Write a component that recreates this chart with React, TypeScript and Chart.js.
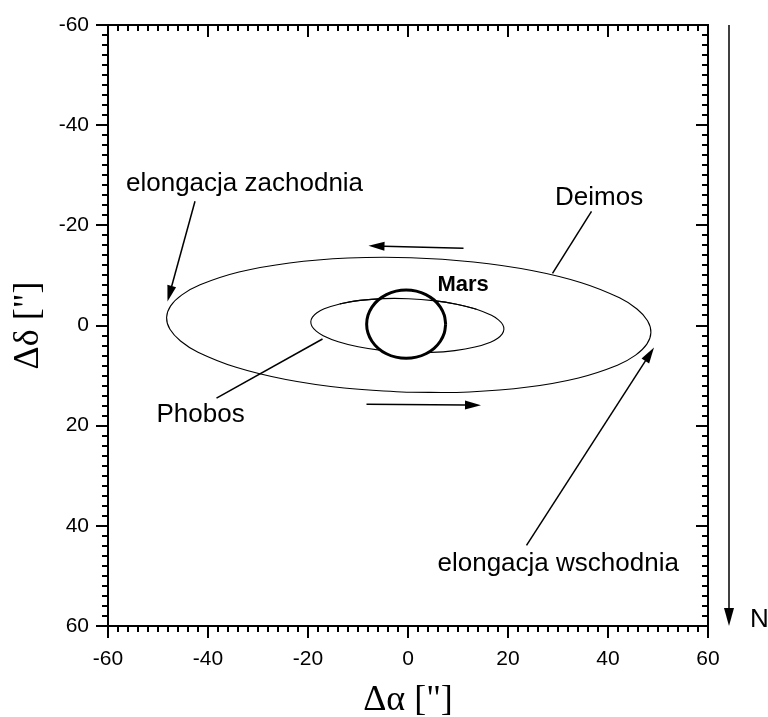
import React, { useEffect, useRef } from 'react';
import { Chart, registerables } from 'chart.js';

Chart.register(...registerables);

// ---- axes ----
const AXIS_MIN = -60;
const AXIS_MAX = 60;
const MINOR_STEP = 2;
const MAJOR_STEP = 20;
const tickValues = [-60, -40, -20, 0, 20, 40, 60];
const xTitle = 'Δα ["]';
const yTitle = 'Δδ ["]';

// ---- orbit of Deimos ----
const deimosX = [-0.27, -12.78, -24.43, -34.38, -42.0, -45.5, -47.61, -48.28, -47.47, -45.22, -41.58, -33.8, -23.71, -11.98, 0.57, 13.08, 24.73, 34.68, 42.3, 45.8, 47.91, 48.58, 47.77, 45.52, 41.88, 34.1, 24.01, 12.28, -0.27];
const deimosY = [13.34, 12.49, 10.79, 8.35, 5.33, 3.09, 0.76, -1.6, -3.92, -6.11, -8.13, -10.67, -12.49, -13.47, -13.54, -12.69, -10.99, -8.55, -5.53, -3.29, -0.96, 1.4, 3.72, 5.91, 7.93, 10.47, 12.29, 13.27, 13.34];

// ---- orbit of Phobos ----
const phobosX = [-0.34, -5.33, -9.97, -13.94, -16.96, -18.35, -19.19, -19.44, -19.11, -18.21, -16.76, -13.64, -9.61, -4.93, 0.08, 5.07, 9.71, 13.68, 16.7, 18.09, 18.93, 19.18, 18.85, 17.95, 16.5, 13.38, 9.35, 4.67, -0.34];
const phobosY = [5.35, 4.97, 4.25, 3.25, 2.03, 1.12, 0.19, -0.75, -1.67, -2.54, -3.33, -4.31, -5.01, -5.37, -5.35, -4.97, -4.25, -3.25, -2.03, -1.12, -0.19, 0.75, 1.67, 2.54, 3.33, 4.31, 5.01, 5.37, 5.35];
// part of Phobos orbit passing in front of Mars (indices into the arrays above)
const phobosFrontStart = 11;
const phobosFrontEnd = 17;

// ---- disc of Mars ----
const marsX = [7.53, 7.26, 6.47, 5.22, 3.58, 1.67, -0.37, -2.41, -4.32, -5.96, -7.21, -8.0, -8.27, -8.0, -7.21, -5.96, -4.32, -2.41, -0.37, 1.67, 3.58, 5.22, 6.47, 7.26, 7.53];
const marsY = [-0.27, 1.5, 3.14, 4.55, 5.64, 6.32, 6.55, 6.32, 5.64, 4.55, 3.14, 1.5, -0.27, -2.04, -3.68, -5.09, -6.18, -6.86, -7.09, -6.86, -6.18, -5.09, -3.68, -2.04, -0.27];

// ---- arrows [x1, y1, x2(tip), y2(tip)] ----
const westArrow = [-42.6, -24.8, -48.1, -4.8];
const eastArrow = [23.7, 43.9, 49.2, 4.4];
const upperMotionArrow = [11.1, -15.4, -7.9, -15.9];
const lowerMotionArrow = [-8.3, 15.7, 14.6, 15.9];
const northArrow = [64.2, -60, 64.2, 60];

// ---- leader lines [x1, y1, x2, y2] ----
const deimosLeader = [36.7, -22.8, 28.9, -10.4];
const phobosLeader = [-38.3, 14.5, -17.1, 2.7];

// ---- text labels (left, baseline) ----
const labelTexts = ['elongacja zachodnia', 'Deimos', 'Mars', 'Phobos', 'elongacja wschodnia', 'N'];
const labelX = [-56.4, 29.4, 5.9, -50.3, 5.9, 68.4];
const labelY = [-26.9, -24.1, -6.9, 19.2, 49.0, 60.1];
const labelBold = [false, false, true, false, false, false];

const SANS = '"Liberation Sans", Arial, Helvetica, sans-serif';
const SERIF = '"Liberation Serif", "Times New Roman", serif';

function toPoints(xs: number[], ys: number[]) {
  return xs.map((x, i) => ({ x, y: ys[i] }));
}

function drawArrow(ctx: CanvasRenderingContext2D, x1: number, y1: number, x2: number, y2: number, len: number, half: number) {
  const ang = Math.atan2(y2 - y1, x2 - x1);
  const bx = x2 - len * Math.cos(ang);
  const by = y2 - len * Math.sin(ang);
  ctx.beginPath();
  ctx.moveTo(x1, y1);
  ctx.lineTo(bx + 0.5 * Math.cos(ang), by + 0.5 * Math.sin(ang));
  ctx.stroke();
  ctx.beginPath();
  ctx.moveTo(x2, y2);
  ctx.lineTo(bx + half * Math.sin(ang), by - half * Math.cos(ang));
  ctx.lineTo(bx - half * Math.sin(ang), by + half * Math.cos(ang));
  ctx.closePath();
  ctx.fill();
}

const decorPlugin = {
  id: 'decor',
  afterDraw(chart: any) {
    const { ctx, chartArea: a } = chart;
    const xs = chart.scales.x;
    const ys = chart.scales.y;
    const px = (v: number) => xs.getPixelForValue(v);
    const py = (v: number) => ys.getPixelForValue(v);
    ctx.save();
    ctx.strokeStyle = '#000';
    ctx.fillStyle = '#000';

    // ticks: left & bottom outward, top & right inward
    ctx.lineWidth = 2;
    for (let v = AXIS_MIN; v <= AXIS_MAX; v += MINOR_STEP) {
      const major = v % MAJOR_STEP === 0;
      const len = major ? 12 : 6;
      const x = Math.round(px(v));
      const y = Math.round(py(v));
      ctx.beginPath();
      ctx.moveTo(x, a.bottom); ctx.lineTo(x, a.bottom + len);
      ctx.moveTo(x, a.top); ctx.lineTo(x, a.top + len);
      ctx.moveTo(a.left - len, y); ctx.lineTo(a.left, y);
      ctx.moveTo(a.right - len, y); ctx.lineTo(a.right, y);
      ctx.stroke();
    }
    // frame
    ctx.lineWidth = 2;
    ctx.strokeRect(a.left, a.top, a.right - a.left, a.bottom - a.top);

    // leader lines
    ctx.lineWidth = 1.5;
    for (const l of [deimosLeader, phobosLeader]) {
      ctx.beginPath();
      ctx.moveTo(px(l[0]), py(l[1]));
      ctx.lineTo(px(l[2]), py(l[3]));
      ctx.stroke();
    }
    // arrows
    for (const ar of [westArrow, eastArrow, upperMotionArrow, lowerMotionArrow]) {
      drawArrow(ctx, px(ar[0]), py(ar[1]), px(ar[2]), py(ar[3]), 16, 4.5);
    }
    ctx.lineWidth = 1.5;
    drawArrow(ctx, px(northArrow[0]), py(northArrow[1]), px(northArrow[2]), py(northArrow[3]), 18, 5);

    // labels
    ctx.textAlign = 'left';
    ctx.textBaseline = 'alphabetic';
    labelTexts.forEach((t, i) => {
      ctx.font = labelBold[i] ? `bold 22px ${SANS}` : `26px ${SANS}`;
      ctx.fillText(t, px(labelX[i]), py(labelY[i]));
    });
    ctx.restore();
  },
};

export default function App() {
  const ref = useRef<HTMLCanvasElement>(null);

  useEffect(() => {
    if (!ref.current) return;
    Chart.defaults.color = '#000';
    const phobosPts = toPoints(phobosX, phobosY);
    const chart = new Chart(ref.current, {
      type: 'scatter',
      data: {
        datasets: [
          {
            label: 'Deimos',
            data: toPoints(deimosX, deimosY),
            showLine: true,
            borderColor: '#000',
            borderWidth: 1.1,
            pointRadius: 0,
            tension: 0.4,
            fill: false,
            order: 4,
          },
          {
            label: 'Phobos',
            data: phobosPts,
            showLine: true,
            borderColor: '#000',
            borderWidth: 1.1,
            pointRadius: 0,
            tension: 0.4,
            fill: false,
            order: 3,
          },
          {
            label: 'Mars',
            data: toPoints(marsX, marsY),
            showLine: true,
            borderColor: '#000',
            backgroundColor: '#fff',
            borderWidth: 3,
            pointRadius: 0,
            tension: 0.4,
            fill: 'shape',
            order: 2,
          },
          {
            label: 'Phobos (front)',
            data: phobosPts.slice(phobosFrontStart, phobosFrontEnd + 1),
            showLine: true,
            borderColor: '#000',
            borderWidth: 1.1,
            pointRadius: 0,
            tension: 0.4,
            fill: false,
            order: 1,
          },
        ] as any,
      },
      options: {
        responsive: false,
        animation: false,
        devicePixelRatio: 1,
        layout: { padding: { left: 0, right: 60, top: 25, bottom: 0 } },
        plugins: {
          legend: { display: false },
          tooltip: { enabled: false },
        },
        scales: {
          x: {
            type: 'linear',
            position: 'bottom',
            min: AXIS_MIN,
            max: AXIS_MAX,
            grid: { display: false, drawTicks: false },
            border: { display: false },
            afterBuildTicks: (s: any) => {
              s.ticks = tickValues.map((v) => ({ value: v }));
            },
            afterFit: (s: any) => {
              s.height = 91;
              s.paddingLeft = 0;
              s.paddingRight = 0;
            },
            ticks: {
              color: '#000',
              padding: 21,
              maxRotation: 0,
              autoSkip: false,
              font: { family: SANS, size: 21 },
              callback: (v: any) => String(v),
            },
            title: {
              display: true,
              text: xTitle,
              color: '#000',
              font: { family: SERIF, size: 36, lineHeight: 1 },
              padding: { top: 0, bottom: -1.5 },
            },
          },
          y: {
            type: 'linear',
            position: 'left',
            reverse: true,
            min: AXIS_MIN,
            max: AXIS_MAX,
            grid: { display: false, drawTicks: false },
            border: { display: false },
            afterBuildTicks: (s: any) => {
              s.ticks = tickValues.map((v) => ({ value: v }));
            },
            afterFit: (s: any) => {
              s.width = 108;
              s.paddingTop = 0;
              s.paddingBottom = 0;
            },
            ticks: {
              color: '#000',
              padding: 19,
              autoSkip: false,
              font: { family: SANS, size: 21 },
              callback: (v: any) => String(v),
            },
            title: {
              display: true,
              text: yTitle,
              color: '#000',
              font: { family: SERIF, size: 36, lineHeight: 1 },
              padding: { top: 11, bottom: 0 },
            },
          },
        },
      } as any,
      plugins: [decorPlugin],
    });
    return () => chart.destroy();
  }, []);

  return (
    <div style={{ position: 'absolute', left: 0, top: 0, width: 768, height: 717, background: '#fff' }}>
      <canvas ref={ref} width={768} height={717} style={{ display: 'block' }} />
    </div>
  );
}
